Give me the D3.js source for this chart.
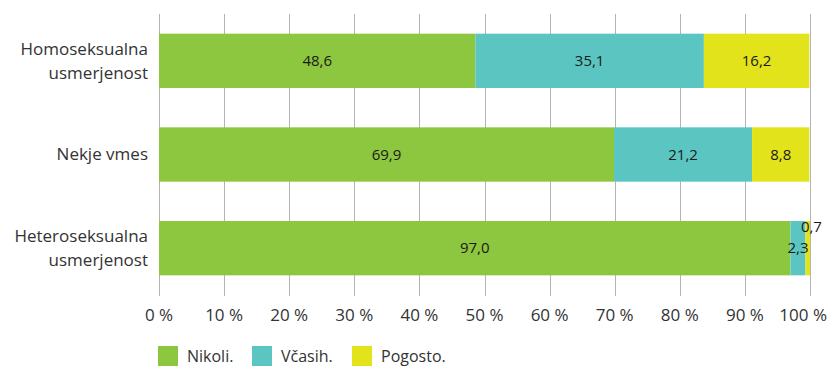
<!DOCTYPE html>
<html><head><meta charset="utf-8">
<script src="https://cdn.jsdelivr.net/npm/d3@7"></script>
<style>
html,body{margin:0;padding:0;background:#fff;}
svg{display:block;font-family:"Open Sans",Lato,sans-serif;}
</style></head>
<body><svg id="c" width="829" height="366"></svg>
<script>
const categories = [["Homoseksualna","usmerjenost"],["Nekje vmes"],["Heteroseksualna","usmerjenost"]];
const seriesNames = ["Nikoli.","Včasih.","Pogosto."];
const nikoli = [48.6, 69.9, 97.0];
const vcasih = [35.1, 21.2, 2.3];
const pogosto = [16.2, 8.8, 0.7];
const colors = ["#8dc63f","#5bc5c1","#e2e31a"];
const tickValues = [0,10,20,30,40,50,60,70,80,90,100];

const svg = d3.select("#c");
const x = d3.scaleLinear().domain([0,100]).range([159,810]);
const y = d3.scaleBand().domain(d3.range(categories.length)).range([14,295]).paddingInner(0.42).paddingOuter(0.21);

const textColor = "#333";
svg.append("g").selectAll("line").data(tickValues).join("line")
  .attr("x1",d=>Math.round(x(d))+0.5).attr("x2",d=>Math.round(x(d))+0.5)
  .attr("y1",14).attr("y2",296).attr("stroke","#b3b3b3").attr("stroke-width",1);

svg.append("g").selectAll("text").data(tickValues).join("text")
  .attr("x",d=>d===100?827:x(d)).attr("y",321).attr("text-anchor",d=>d===100?"end":"middle")
  .attr("font-size",17).attr("fill",textColor).text(d=>d+" %");

const rows = categories.map((c,i)=>({i, vals:[nikoli[i],vcasih[i],pogosto[i]]}));
const segs = [];
rows.forEach(r=>{let acc=0; r.vals.forEach((v,k)=>{segs.push({i:r.i,k,v,x0:acc,x1:acc+v}); acc+=v;});});

svg.append("g").selectAll("rect").data(segs).join("rect")
  .attr("x",d=>x(d.x0)).attr("width",d=>x(d.x1)-x(d.x0))
  .attr("y",d=>y(d.i)).attr("height",y.bandwidth()).attr("fill",d=>colors[d.k]);

const fmt = v => v.toFixed(1).replace(".",",");
svg.append("g").selectAll("text").data(segs).join("text")
  .attr("x",d=>{ if(d.v<1) return x(d.x0)+6; return (x(d.x0)+x(d.x1))/2; })
  .attr("y",d=>y(d.i)+y.bandwidth()/2 + (d.v<1 ? -21 : 0))
  .attr("dy","0.35em").attr("text-anchor","middle")
  .attr("font-size",15).attr("fill","#1a1a1a").text(d=>fmt(d.v));

const cg = svg.append("g");
categories.forEach((lines,i)=>{
  const cy = y(i)+y.bandwidth()/2;
  const lh = 24;
  lines.forEach((t,j)=>{
    cg.append("text").attr("x",148).attr("y",cy + (j-(lines.length-1)/2)*lh)
      .attr("dy","0.35em").attr("text-anchor","end").attr("font-size",17)
      .attr("fill",textColor).text(t);
  });
});

const legX = [158,252,352];
const lg = svg.append("g");
seriesNames.forEach((n,k)=>{
  lg.append("rect").attr("x",legX[k]).attr("y",346).attr("width",20).attr("height",20).attr("fill",colors[k]);
  lg.append("text").attr("x",legX[k]+29).attr("y",362).attr("font-size",16).attr("fill",textColor).text(n);
});
</script></body></html>
